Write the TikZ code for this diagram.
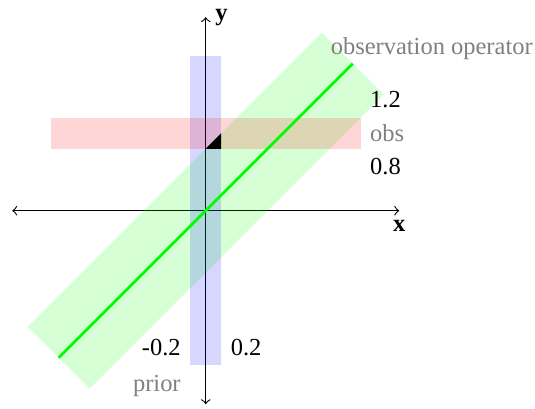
\documentclass[tikz,border=0pt]{standalone}
\usepackage{fontspec}
\setmainfont{Liberation Serif}
\usetikzlibrary{positioning}

\begin{document}
\begin{tikzpicture}[>=to,every node/.style={font=\fontsize{9}{11}\selectfont},
  band/.style={fill opacity=0.16},
  note/.style={text=gray}]
  \useasboundingbox (-2.658,-2.562) rectangle (4.254,2.722);
  % axes
  \coordinate (xl) at (-2.5,0);
  \coordinate (xr) at (2.5,0);
  \coordinate (yb) at (0,-2.5);
  \coordinate (yt) at (0,2.5);
  \draw[<->] (xl) -- (xr);
  \draw[<->] (yb) -- (yt);
  \node[below=0pt of xr] (xlab) {$\mathbf{x}$};
  \node[right=0pt of yt] (ylab) {$\mathbf{y}$};

  % bands
  \fill[green,band] (-2.3,-1.5) -- (-1.5,-2.3) -- (2.3,1.5) -- (1.5,2.3) -- cycle;
  \fill[blue,band] (-0.2,-2) rectangle (0.2,2);
  \fill[red,band] (-2,0.8) rectangle (2,1.2);
  \fill (0,0.8) -- (0.2,1) -- (0.2,0.8) -- cycle;

  % observation operator
  \coordinate (lo) at (-1.9,-1.9);
  \coordinate (hi) at (1.9,1.9);
  \draw[green,line width=1pt] (lo) -- (hi);
  \node[note,anchor=base] (oplab) at (2.92,2.02) {observation operator};

  % obs labels
  \coordinate (obshi) at (2,1.2);
  \coordinate (obsmid) at (2,1);
  \coordinate (obslo) at (2,0.8);
  \node[above right=0pt of obshi] (obsup) {1.2};
  \node[note,right=0pt of obsmid] (obslab) {obs};
  \node[below right=0pt of obslo] (obsdown) {0.8};

  % prior labels
  \coordinate (prl) at (-0.2,-2);
  \coordinate (prr) at (0.2,-2);
  \node[above left=0pt of prl] (prleft) {-0.2};
  \node[above right=0pt of prr] (prright) {0.2};
  \node[note,below left=0pt of prl] (prlab) {prior};
\end{tikzpicture}
\end{document}
